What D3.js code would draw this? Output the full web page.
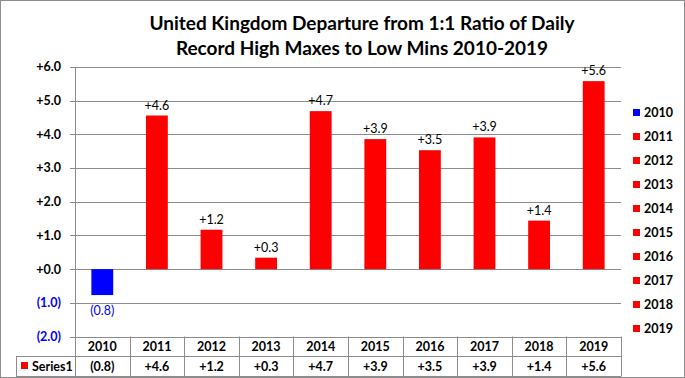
<!DOCTYPE html>
<html><head><meta charset="utf-8">
<script src="https://cdn.jsdelivr.net/npm/d3@7"></script>
<style>body{margin:0;background:#fff}svg{display:block}text{font-family:Lato,"Open Sans",sans-serif}</style>
</head><body>
<script>
const titleLines = ["United Kingdom Departure from 1:1 Ratio of Daily", "Record High Maxes to Low Mins 2010-2019"];
const years = ["2010","2011","2012","2013","2014","2015","2016","2017","2018","2019"];
const values = [-0.77, 4.56, 1.17, 0.34, 4.69, 3.86, 3.53, 3.91, 1.44, 5.58];
const yTicks = [6, 5, 4, 3, 2, 1, 0, -1, -2];
const seriesName = "Series1";

const W = 685, H = 378;
const svg = d3.select("body").append("svg").attr("width", W).attr("height", H);
svg.append("rect").attr("x",0.5).attr("y",0.5).attr("width",W-1).attr("height",H-1)
  .attr("fill","#fff").attr("stroke","#8c8c8c");

const fmt = v => { const s = d3.format(".1f")(Math.abs(v)); return v < 0 ? "(" + s + ")" : "+" + s; };
const color = v => v < 0 ? "#0000ff" : "#ff0000";
const FS = 12.5;

const x = d3.scaleBand().domain(years).range([75, 621]).paddingInner(0.6).paddingOuter(0.3);
const xb = d3.scaleBand().domain(years).range([75, 621]);
const y = d3.scaleLinear().domain([-2, 6]).range([336.5, 67]);

// title
svg.append("g").selectAll("text").data(titleLines).join("text")
  .attr("x", 362).attr("y", (d,i) => 30 + i*25).attr("text-anchor","middle")
  .attr("font-size", 19).attr("font-weight","bold").attr("fill","#000").text(d => d);

// gridlines
svg.append("g").selectAll("line").data(yTicks).join("line")
  .attr("x1", 70).attr("x2", 621).attr("y1", d => Math.round(y(d))+0.5).attr("y2", d => Math.round(y(d))+0.5)
  .attr("stroke", "#8c8c8c");

// y axis line
svg.append("line").attr("x1",75.5).attr("x2",75.5).attr("y1",y(6)).attr("y2",376.5).attr("stroke","#8c8c8c");

// y tick labels
svg.append("g").selectAll("text").data(yTicks).join("text")
  .attr("x", 61).attr("y", d => y(d)).attr("dy","0.35em").attr("text-anchor","end")
  .attr("font-size", FS).attr("font-weight","bold").attr("fill", d => d < 0 ? "#0000ff" : "#000")
  .text(fmt);

// bars
svg.append("g").selectAll("rect").data(values).join("rect")
  .attr("x", (d,i) => x(years[i])).attr("width", x.bandwidth())
  .attr("y", d => y(Math.max(0,d))).attr("height", d => Math.abs(y(d) - y(0)))
  .attr("fill", color);

// data labels
svg.append("g").selectAll("text").data(values).join("text")
  .attr("x", (d,i) => x(years[i]) + x.bandwidth()/2)
  .attr("y", d => d >= 0 ? y(d) - 6 : y(d) + 20)
  .attr("text-anchor","middle").attr("font-size", FS)
  .attr("fill", d => d < 0 ? "#0000ff" : "#000").text(fmt);

// data table
const tLine = "#8c8c8c";
const tbl = svg.append("g");
tbl.append("line").attr("x1",16).attr("x2",621).attr("y1",356.5).attr("y2",356.5).attr("stroke",tLine);
tbl.append("line").attr("x1",16).attr("x2",621).attr("y1",376.5).attr("y2",376.5).attr("stroke",tLine);
tbl.append("line").attr("x1",16.5).attr("x2",16.5).attr("y1",356.5).attr("y2",376.5).attr("stroke",tLine);
tbl.selectAll("line.v").data(years).join("line").attr("class","v")
  .attr("x1", d => Math.round(xb(d)+xb.bandwidth())+0.5).attr("x2", d => Math.round(xb(d)+xb.bandwidth())+0.5)
  .attr("y1", y(-2)).attr("y2", 376.5).attr("stroke", tLine);
tbl.selectAll("text.yr").data(years).join("text").attr("class","yr")
  .attr("x", d => xb(d) + xb.bandwidth()/2).attr("y", 351).attr("text-anchor","middle")
  .attr("font-size", FS).attr("font-weight","bold").attr("fill","#000").text(d => d);
tbl.selectAll("text.val").data(values).join("text").attr("class","val")
  .attr("x", (d,i) => xb(years[i]) + xb.bandwidth()/2).attr("y", 371).attr("text-anchor","middle")
  .attr("font-size", FS).attr("font-weight","bold").attr("fill","#000").text(fmt);
tbl.append("rect").attr("x",21).attr("y",362).attr("width",7).attr("height",7).attr("fill","#ff0000");
tbl.append("text").attr("x",32).attr("y",371).attr("font-size",FS).attr("font-weight","bold").attr("fill","#000").text(seriesName);

// legend
const leg = svg.append("g").selectAll("g").data(years).join("g")
  .attr("transform", (d,i) => `translate(633, ${113 + i*24})`);
leg.append("rect").attr("x",0).attr("y",-4).attr("width",7).attr("height",7).attr("fill",(d,i) => color(values[i]));
leg.append("text").attr("x",11).attr("y",0).attr("dy","0.35em").attr("font-size",FS).attr("font-weight","bold").attr("fill","#000").text(d => d);
</script>
</body></html>
